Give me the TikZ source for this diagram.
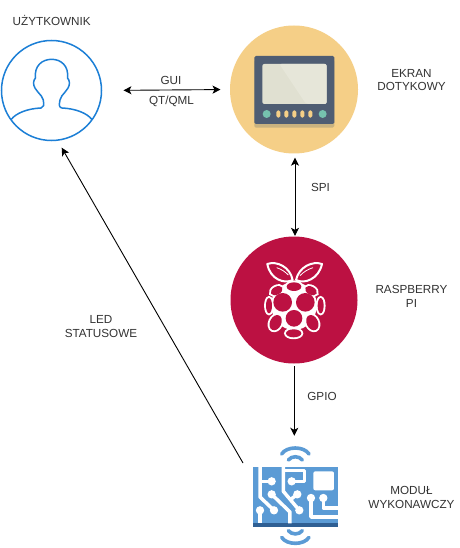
\documentclass[tikz,border=0pt]{standalone}
\usepackage{fontspec}
\setmainfont{Liberation Sans}
\usetikzlibrary{arrows.meta}
\definecolor{ublue}{HTML}{1C7FD6}
\definecolor{sand}{HTML}{F5CF87}
\definecolor{slate}{HTML}{4F5D73}
\definecolor{slated}{HTML}{C9B27F}
\definecolor{glass}{HTML}{E0E0D1}
\definecolor{glassl}{HTML}{E6E6D9}
\definecolor{teal1}{HTML}{76C2AF}
\definecolor{rasp}{HTML}{BC1142}
\definecolor{board}{HTML}{5B9BD5}
\definecolor{boardd}{HTML}{2F5F93}
\tikzset{
  lbl/.style={font=\fontsize{11.7}{13.6}\selectfont, text=black!80, align=center, inner sep=0pt},
  conn/.style={draw=black, line width=0.9pt, -{Stealth[length=8pt,width=8pt,inset=2pt]}},
  biconn/.style={draw=black, line width=0.9pt, {Stealth[length=8pt,width=8pt,inset=2pt]}-{Stealth[length=8pt,width=8pt,inset=2pt]}},
  zoomA/.style={shift={(220,15)}, x=0.3333pt, y=-0.3333pt},
  zoomB/.style={shift={(225,230)}, x=0.3333pt, y=-0.3333pt},
  zoomC/.style={shift={(235,440)}, x=0.3333pt, y=-0.3333pt},
  trace/.style={draw=white, line width=3.5pt, line cap=butt, line join=round},
  dot/.style={fill=white, draw=none},
  wave/.style={draw=board, line width=3.6pt, line cap=round},
  leafw/.style={draw=white, fill=rasp, line width=2pt, line join=round},
  berry/.style={fill=rasp, draw=white, line width=3.8pt},
  berryin/.style={fill=rasp, draw=none}
}
\newcommand{\piberries}[1]{%
  \path[#1] (207,170) ellipse (22 and 13);
  \path[#1, rotate around={28:(155,182)}] (155,182) ellipse (19 and 12);
  \path[#1, rotate around={-28:(258,182)}] (258,182) ellipse (19 and 12);
  \path[#1] (173,217) ellipse (28 and 28);
  \path[#1] (241,217) ellipse (28 and 28);
  \path[#1] (132,227) ellipse (9 and 23);
  \path[#1] (287,227) ellipse (9 and 23);
  \path[#1] (207,265) ellipse (25 and 25);
  \path[#1, rotate around={-25:(152,278)}] (152,278) ellipse (17 and 24);
  \path[#1, rotate around={25:(262,278)}] (262,278) ellipse (17 and 24);
  \path[#1] (206,310) ellipse (23 and 12);
}
\begin{document}
\begin{tikzpicture}[x=1pt,y=-1pt]
\useasboundingbox (0,0) rectangle (459,548);
\fill[white] (0,0) rectangle (459,548);

% user
\node[circle, draw=ublue, line width=1.5pt, minimum size=100pt, inner sep=0pt] (user) at (51.5,90.5) {};
\draw[ublue, line width=1.5pt, line join=round]
  (11.2,119.5) .. controls (16,113) and (28,108.5) .. (41,108)
  .. controls (44,107.5) and (44,105) .. (43.3,100)
  .. controls (42,94) and (34,91) .. (33.5,83)
  .. controls (33.5,81) and (34.5,79) .. (35.5,78)
  .. controls (34,66) and (42,59.3) .. (51.7,59.3)
  .. controls (61,59.3) and (69,66) .. (67.5,78)
  .. controls (68.5,79) and (69.5,81) .. (69.5,83)
  .. controls (69,91) and (61,94) .. (60,100)
  .. controls (59,105) and (59,107.5) .. (62,108)
  .. controls (75,108.5) and (87,113) .. (91.9,119.5);

% screen
\node[circle, fill=sand, minimum size=128pt, inner sep=0pt] (screen) at (294,89.5) {};
\begin{scope}[zoomA]
  \fill[slated, rounded corners=1.5pt] (103,135) rectangle (343,338);
  \fill[slate, rounded corners=1.5pt] (103,123) rectangle (343,327);
  \fill[glass, rounded corners=2pt] (127,147) rectangle (320,267);
  \fill[glassl, rounded corners=2pt] (178,147) -- (320,147) -- (320,267) -- (258,267) -- cycle;
  \fill[teal1] (140,297) circle (12);
  \fill[teal1] (308,297) circle (12);
  \foreach \px in {175,199,223,247,271}
    \fill[sand, rounded corners=1.7pt] (\px-6,286) rectangle (\px+6,308);
\end{scope}

% raspberry
\node[circle, fill=rasp, minimum size=127pt, inner sep=0pt] (pi) at (294,300) {};
\begin{scope}[zoomB]
  \piberries{berry}
  \fill[white] (207,228) ellipse (68 and 72);
  \piberries{berryin}
  \draw[leafw] (127,102) .. controls (155,92) and (195,110) .. (203,150)
     .. controls (178,163) and (135,148) .. (127,102) -- cycle;
  \draw[leafw] (291,102) .. controls (263,92) and (222,110) .. (213,150)
     .. controls (238,163) and (281,148) .. (291,102) -- cycle;
  \draw[white, line width=0.8pt] (155,113) .. controls (170,118) and (180,125) .. (190,135);
  \draw[white, line width=0.8pt] (264,113) .. controls (248,118) and (237,125) .. (225,137);
\end{scope}

% module
\node[minimum width=85pt, minimum height=100pt, inner sep=0pt] (module) at (295.5,497) {};
\begin{scope}[zoomC]
  \fill[board] (55,80) rectangle (308,261);
  \fill[boardd] (55,250) rectangle (308,261);
  \fill[white, rounded corners=2pt] (235,94) rectangle (297,151);
  \draw[trace] (75,80) -- (75,171) -- (117,211);
  \draw[trace] (75,124) -- (110,124);
  \draw[trace] (145,80) -- (145,154) -- (193,211);
  \draw[trace] (145,91) -- (208,91) -- (208,124) -- (170,124);
  \draw[trace] (110,163) -- (165,216) -- (165,250);
  \draw[trace] (187,163) -- (165,180);
  \draw[trace] (75,211) -- (75,250);
  \draw[trace] (228,174) -- (228,231) -- (308,231);
  \draw[trace] (265,174) -- (265,204) -- (308,204);
  \foreach \dx/\dy in {110/124,170/124,110/163,187/163,75/211,117/211,193/211,228/174,265/174}
    \fill[dot] (\dx,\dy) circle (12.5);
  \draw[wave] (140,42) .. controls (155,18) and (207,18) .. (222,42);
  \draw[wave] (160,60) .. controls (170,47) and (192,47) .. (202,60);
  \draw[wave] (160,272) .. controls (170,285) and (192,285) .. (202,272);
  \draw[wave] (140,292) .. controls (155,316) and (207,316) .. (222,292);
\end{scope}

% connectors
\coordinate (ledA) at (243,463);
\coordinate (ledB) at (61.7,147.7);
\draw[biconn, shorten <=21.2pt, shorten >=9.3pt] (user.east) -- (screen.west);
\draw[biconn, shorten <=4pt, shorten >=0.5pt] ([xshift=1pt]screen.south) -- ([xshift=1pt]pi.north);
\draw[conn, shorten <=2.5pt, shorten >=11pt] ([xshift=0.3pt]pi.south) -- ([xshift=-1.2pt]module.north);
\draw[conn] (ledA) -- (ledB);

% labels
\node[lbl] (lu) at (51.7,20.7) {UŻYTKOWNIK};
\node[lbl] (lg) at (171,80.3) {GUI};
\node[lbl] (lq) at (171.5,101) {QT/QML};
\node[lbl] (le) at (411.5,80) {EKRAN\\DOTYKOWY};
\node[lbl] (ls) at (320.5,187) {SPI};
\node[lbl] (lr) at (411.5,296.7) {RASPBERRY\\PI};
\node[lbl] (lo) at (322,396) {GPIO};
\node[lbl] (ll) at (101,326.7) {LED\\STATUSOWE};
\node[lbl] (lm) at (411.5,497.3) {MODUŁ\\WYKONAWCZY};
\end{tikzpicture}
\end{document}
